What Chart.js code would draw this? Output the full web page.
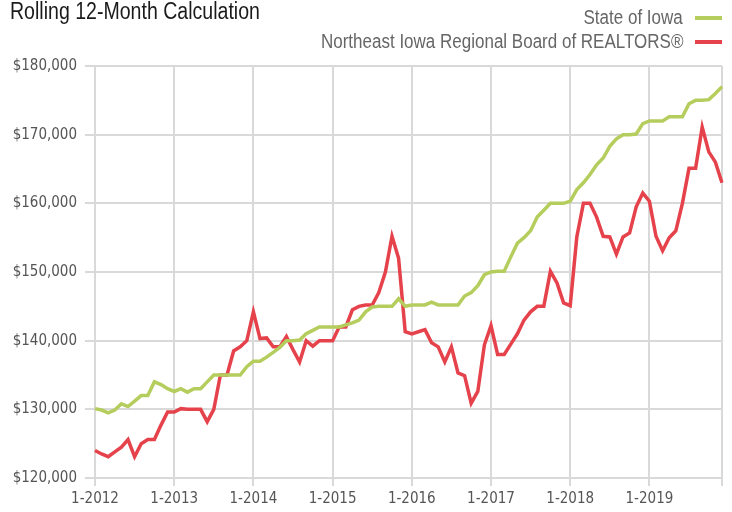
<!DOCTYPE html>
<html>
<head>
<meta charset="utf-8">
<script src="https://cdn.jsdelivr.net/npm/chart.js@4.4.1/dist/chart.umd.min.js"></script>
<style>
  html, body { margin: 0; padding: 0; background: #fff; }
  #wrap { position: relative; width: 732px; height: 512px; }
  #title {
    position: absolute; left: 10px; top: -2px;
    font: 23px "Liberation Sans", Arial, sans-serif;
    color: #1b1b1b;
    white-space: nowrap;
    transform: scaleX(0.85); transform-origin: left center;
  }
  #legend { position: absolute; right: 10px; top: 6px; width: 500px; }
  #legend .row { position: relative; height: 24px; }
  #legend .txt {
    position: absolute; right: 39px; top: 0; line-height: 24px;
    font: 20px "Liberation Sans", Arial, sans-serif;
    color: #666; white-space: nowrap;
    transform: scaleX(0.85); transform-origin: right center;
  }
  #legend .swatch { position: absolute; right: 0; top: 10px; width: 27px; height: 4px; }
</style>
</head>
<body>
<div id="wrap">
  <canvas id="rollingChart" width="732" height="512"></canvas>
  <div id="title">Rolling 12-Month Calculation</div>
  <div id="legend"></div>
</div>
<script>
// monthly rolling 12-month median price, Jan 2012 - Dec 2019
const years = [2012, 2013, 2014, 2015, 2016, 2017, 2018, 2019];
const monthNums = [1, 2, 3, 4, 5, 6, 7, 8, 9, 10, 11, 12];

const seriesNames = ["State of Iowa", "Northeast Iowa Regional Board of REALTORS®"];
const seriesColors = ["#b5cd5c", "#e5424b"];

const stateOfIowa = [
  130100, 129900, 129500, 129900, 130800, 130400, 131200, 132000, 132000, 134000, 133600, 133000,
  132600, 133000, 132500, 133000, 133000, 134000, 135000, 135000, 135000, 135000, 135000, 136200,
  137000, 137000, 137600, 138300, 139000, 140000, 140000, 140100, 141000, 141500, 142000, 142000,
  142000, 142000, 142300, 142600, 143000, 144200, 144900, 145000, 145000, 145000, 146100, 145000,
  145200, 145200, 145200, 145600, 145200, 145200, 145200, 145200, 146500, 147000, 148000, 149600,
  150000, 150100, 150100, 152200, 154200, 155000, 156000, 158000, 159000, 160000, 160000, 160000,
  160300, 162000, 163000, 164200, 165600, 166600, 168300, 169400, 170000, 170000, 170100, 171600,
  172000, 172000, 172000, 172600, 172600, 172600, 174500, 175000, 175000, 175100, 176000, 177000,
];

const northeastIowa = [
  124000, 123500, 123100, 123800, 124500, 125600, 123100, 125000, 125600, 125600, 127700, 129600,
  129600, 130100, 130000, 130000, 130000, 128200, 130000, 135000, 135000, 138500, 139100, 140000,
  144200, 140300, 140400, 139100, 139100, 140600, 138700, 136900, 140000, 139200, 140000, 140000,
  140000, 142000, 142000, 144500, 145000, 145200, 145200, 147000, 150000, 155200, 152000, 141300,
  141000, 141300, 141600, 139700, 139100, 136900, 139100, 135300, 134900, 130900, 132600, 139400,
  142200, 138000, 138000, 139500, 141000, 143000, 144200, 145000, 145000, 150100, 148400, 145500,
  145100, 155100, 160000, 160000, 158000, 155200, 155100, 152600, 155100, 155700, 159500, 161500,
  160300, 155200, 153100, 155000, 156000, 160000, 165100, 165100, 171100, 167500, 166000, 163000,
];

const yTicks = { min: 120000, max: 180000, step: 10000 };

const monthLabels = years.flatMap((y) => monthNums.map((m) => `${m}-${y}`));

const FONT = "'DejaVu Sans Condensed', 'Liberation Sans', sans-serif";
const GRID = "#d9d9d9";

function renderLegend() {
  const legend = document.getElementById("legend");
  seriesNames.forEach((name, i) => {
    const row = document.createElement("div");
    row.className = "row";
    row.innerHTML = `<span class="txt">${name}</span><span class="swatch" style="background:${seriesColors[i]}"></span>`;
    legend.appendChild(row);
  });
}

function renderChart() {
  new Chart(document.getElementById("rollingChart"), {
    type: "line",
    data: {
      labels: monthLabels,
      datasets: [
        {
          label: seriesNames[0],
          data: stateOfIowa,
          borderColor: seriesColors[0],
          borderWidth: 3.5,
          pointRadius: 0,
          tension: 0,
        },
        {
          label: seriesNames[1],
          data: northeastIowa,
          borderColor: seriesColors[1],
          borderWidth: 3.5,
          pointRadius: 0,
          tension: 0,
        },
      ],
    },
    options: {
      responsive: false,
      animation: false,
      layout: { padding: { top: 66, right: 10, left: 0, bottom: 0 } },
      plugins: { legend: { display: false }, tooltip: { enabled: false } },
      scales: {
        x: {
          type: "category",
          offset: false,
          afterFit: (s) => { s.height = 34; },
          grid: { color: GRID, lineWidth: 2, tickLength: 8 },
          border: { color: GRID, width: 2 },
          ticks: {
            autoSkip: false,
            maxRotation: 0,
            padding: 4,
            color: "#555",
            font: { family: FONT, size: 15 },
            callback: function (value, index) {
              const label = this.getLabelForValue(value);
              if (label.startsWith("1-")) return label;
              if (index === monthLabels.length - 1) return "";
              return null;
            },
          },
        },
        y: {
          min: yTicks.min,
          max: yTicks.max,
          afterFit: (s) => { s.width = 95; },
          grid: { color: GRID, lineWidth: 2, tickLength: 10 },
          border: { color: GRID, width: 2 },
          ticks: {
            stepSize: yTicks.step,
            padding: 8,
            color: "#555",
            font: { family: FONT, size: 15 },
            callback: (v) => "$" + Number(v).toLocaleString("en-US"),
          },
        },
      },
    },
  });
}

renderLegend();
renderChart();
</script>
</body>
</html>
